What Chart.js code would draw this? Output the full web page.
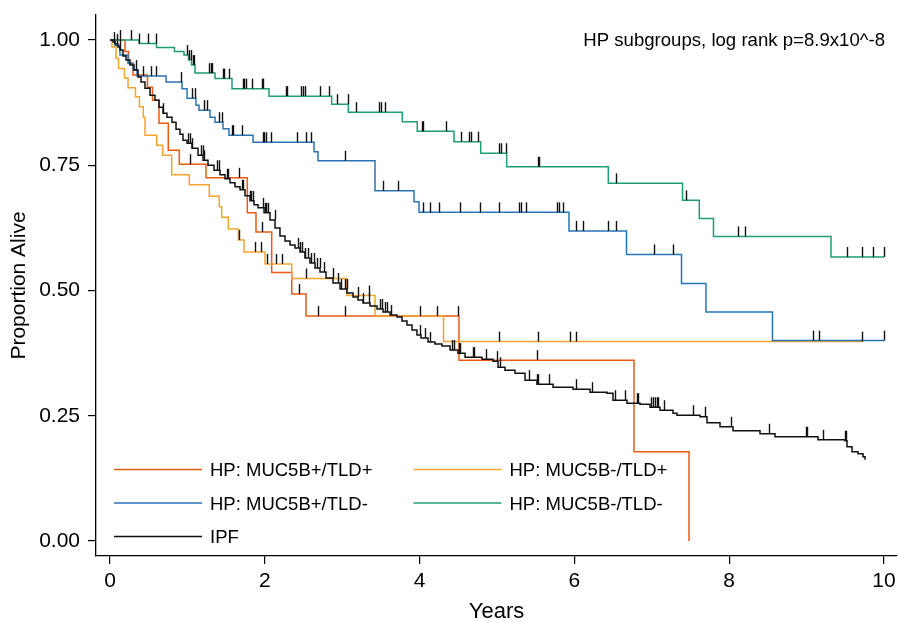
<!DOCTYPE html>
<html>
<head>
<meta charset="utf-8">
<script src="https://cdn.jsdelivr.net/npm/chart.js@4.4.1/dist/chart.umd.min.js"></script>
<style>
  body { margin: 0; background: #fff; }
  #km { display: block; }
</style>
</head>
<body>
<canvas id="km" width="898" height="623"></canvas>
<script>
// Kaplan-Meier curves (time in years, proportion alive)
var redTimes = [0, 0.194, 0.239, 0.297, 0.484, 0.549, 0.633, 0.753, 0.895, 1.240, 1.774, 1.886, 2.089, 2.348, 2.532, 4.509, 6.770, 7.481];
var redSurv  = [1, 0.977, 0.954, 0.930, 0.906, 0.880, 0.834, 0.780, 0.752, 0.725, 0.655, 0.617, 0.536, 0.493, 0.449, 0.361, 0.178, 0];
var redCens  = [1.034, 1.667, 1.964, 2.446, 2.691, 3.036, 4.005, 4.221, 4.500, 5.520];

var orangeTimes = [0, 0.026, 0.078, 0.110, 0.187, 0.233, 0.329, 0.381, 0.430, 0.452, 0.603, 0.681, 0.797, 1.025, 1.283, 1.412, 1.443, 1.528, 1.658, 1.731, 2.003, 2.348, 3.058, 3.424, 4.309, 9.722];
var orangeSurv  = [1, 0.986, 0.963, 0.943, 0.924, 0.905, 0.887, 0.867, 0.846, 0.810, 0.790, 0.770, 0.731, 0.711, 0.688, 0.667, 0.646, 0.623, 0.601, 0.577, 0.553, 0.524, 0.490, 0.449, 0.398, 0.398];
var orangeCens  = [1.670, 1.873, 1.947, 2.025, 2.145, 2.218, 2.528, 3.350, 5.026, 5.526, 5.943, 6.016, 9.722];

var blueTimes = [0, 0.065, 0.129, 0.233, 0.297, 0.349, 0.724, 0.930, 0.995, 1.111, 1.150, 1.292, 1.357, 1.460, 1.537, 1.848, 2.636, 2.687, 3.424, 3.928, 3.992, 5.930, 6.673, 7.384, 7.700, 8.559, 10.0];
var blueSurv  = [1, 0.989, 0.970, 0.953, 0.940, 0.928, 0.916, 0.903, 0.884, 0.870, 0.860, 0.846, 0.836, 0.823, 0.810, 0.796, 0.777, 0.759, 0.699, 0.677, 0.656, 0.619, 0.572, 0.514, 0.457, 0.400, 0.400];
var blueCens  = [0.336, 0.426, 0.530, 0.594, 0.920, 1.059, 1.100, 1.214, 1.253, 1.408, 1.447, 1.576, 1.589, 1.705, 1.977, 1.990, 2.016, 2.080, 2.416, 2.532, 2.597, 3.036, 3.527, 3.721,
                 4.044, 4.134, 4.251, 4.522, 4.780, 5.026, 5.284, 5.310, 5.375, 5.775, 5.801, 5.853, 6.021, 6.111, 6.434, 6.537, 7.028, 7.274, 9.083, 9.160, 10.0];

var greenTimes = [0, 0.375, 0.601, 0.833, 0.956, 1.014, 1.053, 1.098, 1.357, 1.576, 2.054, 2.864, 3.079, 3.776, 3.970, 4.444, 4.789, 5.125, 6.438, 7.397, 7.614, 7.797, 9.315, 10.0];
var greenSurv  = [1, 0.993, 0.985, 0.977, 0.970, 0.960, 0.950, 0.934, 0.923, 0.903, 0.888, 0.872, 0.856, 0.837, 0.818, 0.797, 0.774, 0.747, 0.714, 0.680, 0.644, 0.608, 0.567, 0.567];
var greenCens  = [0.129, 0.271, 0.375, 0.491, 0.594, 0.995, 1.021, 1.047, 1.072, 1.085, 1.279, 1.305, 1.318, 1.460, 1.473, 1.537, 1.718, 1.731, 1.757, 1.835, 1.964, 1.977,
                  2.274, 2.287, 2.468, 2.494, 2.519, 2.713, 2.829, 2.933, 3.075, 3.178, 3.475, 3.501, 3.553, 4.031, 4.044, 4.341, 4.535, 4.638, 4.664, 4.755,
                  5.026, 5.052, 5.116, 5.530, 5.543, 6.537, 7.442, 8.114, 8.204, 9.522, 9.716, 9.858, 10.0];

var ipfTimes = [0, 0.039, 0.065, 0.103, 0.129, 0.168, 0.207, 0.258, 0.310, 0.362, 0.401, 0.452, 0.517, 0.581, 0.633, 0.685, 0.736, 0.801, 0.853, 0.904, 0.943, 0.995,
                1.059, 1.137, 1.202, 1.266, 1.344, 1.421, 1.486, 1.550, 1.615, 1.680, 1.744, 1.809, 1.860, 1.912, 1.990, 2.067, 2.132, 2.196, 2.261, 2.326, 2.390,
                2.455, 2.519, 2.584, 2.649, 2.713, 2.791, 2.881, 2.972, 3.062, 3.140, 3.204, 3.269, 3.359, 3.450, 3.527, 3.618, 3.708, 3.773, 3.837, 3.902, 3.966,
                4.018, 4.109, 4.199, 4.289, 4.393, 4.496, 4.587, 4.806, 4.948, 5.013, 5.103, 5.233, 5.362, 5.517, 5.724, 5.982, 6.202, 6.421, 6.499, 6.680, 6.848,
                6.977, 7.106, 7.274, 7.326, 7.623, 7.713, 7.881, 8.049, 8.398, 8.592, 9.147, 9.496, 9.522, 9.587, 9.664, 9.729, 9.755];
var ipfSurv  = [1, 0.996, 0.992, 0.986, 0.980, 0.968, 0.960, 0.950, 0.940, 0.926, 0.916, 0.904, 0.890, 0.880, 0.866, 0.854, 0.846, 0.836, 0.822, 0.812, 0.800, 0.794,
                0.784, 0.770, 0.760, 0.750, 0.740, 0.731, 0.723, 0.715, 0.707, 0.701, 0.689, 0.679, 0.671, 0.665, 0.655, 0.641, 0.625, 0.609, 0.599, 0.591, 0.585,
                0.577, 0.565, 0.555, 0.545, 0.537, 0.525, 0.515, 0.503, 0.495, 0.487, 0.481, 0.475, 0.469, 0.463, 0.457, 0.451, 0.447, 0.439, 0.431, 0.421, 0.411,
                0.405, 0.397, 0.393, 0.389, 0.381, 0.375, 0.367, 0.363, 0.359, 0.347, 0.341, 0.335, 0.321, 0.313, 0.307, 0.303, 0.297, 0.295, 0.281, 0.275, 0.273,
                0.267, 0.261, 0.255, 0.251, 0.248, 0.236, 0.228, 0.220, 0.214, 0.208, 0.202, 0.200, 0.188, 0.178, 0.174, 0.168, 0.162];
var ipfCens  = [0.05, 0.09, 0.13, 0.685, 1.01, 1.03, 1.06, 1.18, 1.20, 1.21, 1.38, 1.41, 1.51, 1.52, 1.70, 1.72, 1.81, 1.82, 1.85, 1.98, 2.00, 2.01, 2.02, 2.04, 2.13,
                2.43, 2.46, 2.48, 2.52, 2.56, 2.60, 2.63, 2.67, 2.71, 2.76, 2.88, 2.94, 2.98, 3.03, 3.06, 3.20, 3.27, 3.35, 3.49, 3.52, 3.55, 3.58, 3.63, 4.01, 4.07,
                4.13, 4.415, 4.44, 4.51, 4.522, 4.69, 4.703, 4.854, 5.004, 5.039, 5.417, 5.521, 5.534, 5.676, 6.021, 6.227, 6.525, 6.654, 6.813, 6.826, 6.986, 7.016,
                7.041, 7.063, 7.084, 7.158, 7.528, 7.687, 8.023, 8.518, 8.992, 9.009, 9.216, 9.496, 9.509];

var groupLabels = ['HP: MUC5B+/TLD+', 'HP: MUC5B-/TLD+', 'HP: MUC5B+/TLD-', 'HP: MUC5B-/TLD-', 'IPF'];
var groupColors = ['#ED5A12', '#F4A42C', '#2A74B6', '#1E9E72', '#111111'];
var xTicks = [0, 2, 4, 6, 8, 10];
var yTicks = [0, 0.25, 0.5, 0.75, 1];
var noteText = 'HP subgroups, log rank p=8.9x10^-8';

var groups = [
    [redTimes, redSurv, redCens],
    [orangeTimes, orangeSurv, orangeCens],
    [blueTimes, blueSurv, blueCens],
    [greenTimes, greenSurv, greenCens],
    [ipfTimes, ipfSurv, ipfCens]
];

var FONT = "'Liberation Sans', Arial, Helvetica, sans-serif";
Chart.defaults.font.family = FONT;
Chart.defaults.color = '#000';

// value of a step curve at time t
function survAt(times, surv, t) {
    var v = surv[0];
    for (var i = 0; i < times.length; i++) {
        if (times[i] <= t) v = surv[i];
    }
    return v;
}

var datasets = groups.map(function (g, i) {
    return {
        label: groupLabels[i],
        data: g[0].map(function (t, j) { return { x: t, y: g[1][j] }; }),
        borderColor: groupColors[i],
        borderWidth: 1.5,
        stepped: true,
        pointRadius: 0,
        fill: false,
        order: i == 4 ? 0 : 5 - i
    };
});

// censoring marks, note text and the legend inside the plot
var extras = {
    id: 'extras',
    afterDatasetsDraw: function (chart) {
        var ctx = chart.ctx;
        var xs = chart.scales.x, ys = chart.scales.y;
        ctx.save();
        ctx.strokeStyle = '#111';
        ctx.lineWidth = 1.4;
        groups.forEach(function (g) {
            g[2].forEach(function (t) {
                var px = Math.round(xs.getPixelForValue(t)) + 0.5;
                var py = ys.getPixelForValue(survAt(g[0], g[1], t));
                ctx.beginPath();
                ctx.moveTo(px, py);
                ctx.lineTo(px, py - 10);
                ctx.stroke();
            });
        });

        ctx.fillStyle = '#000';
        ctx.font = '18.6px ' + FONT;
        ctx.textAlign = 'right';
        ctx.textBaseline = 'alphabetic';
        ctx.fillText(noteText, 885, 46);

        ctx.font = '18.5px ' + FONT;
        ctx.textAlign = 'left';
        var rows = [469.5, 503, 536.5];
        var cols = [114, 413.5];
        groupLabels.forEach(function (lab, i) {
            var lx = cols[i % 2], ly = rows[Math.floor(i / 2)];
            ctx.strokeStyle = groupColors[i];
            ctx.lineWidth = 1.5;
            ctx.beginPath();
            ctx.moveTo(lx, ly);
            ctx.lineTo(lx + 88, ly);
            ctx.stroke();
            ctx.fillText(lab, lx + 96, ly + 6.5);
        });
        ctx.restore();
    }
};

var ctx = document.getElementById('km').getContext('2d');
var chart = new Chart(ctx, {
    type: 'line',
    data: { datasets: datasets },
    options: {
        responsive: false,
        animation: false,
        layout: { padding: { top: 15, right: 1, left: 0, bottom: 0 } },
        plugins: {
            legend: { display: false },
            tooltip: { enabled: false }
        },
        scales: {
            x: {
                type: 'linear',
                min: -0.181,
                max: 10.168,
                afterBuildTicks: function (s) { s.ticks = xTicks.map(function (v) { return { value: v }; }); },
                afterFit: function (s) { s.height = 67; s.paddingLeft = 0; s.paddingRight = 0; },
                grid: { display: true, drawOnChartArea: false, drawTicks: true, tickLength: 8, color: '#000', lineWidth: 1.2 },
                border: { display: true, color: '#000', width: 1.3 },
                ticks: { font: { size: 21 }, color: '#000', padding: 5, autoSkip: false, maxRotation: 0 },
                title: { display: true, text: 'Years', font: { size: 22, lineHeight: 1 }, color: '#000', padding: 0 }
            },
            y: {
                min: -0.03,
                max: 1.05,
                afterBuildTicks: function (s) { s.ticks = yTicks.map(function (v) { return { value: v }; }); },
                afterFit: function (s) { s.width = 96; s.paddingTop = 0; s.paddingBottom = 0; },
                grid: { display: true, drawOnChartArea: false, drawTicks: true, tickLength: 8, color: '#000', lineWidth: 1.2 },
                border: { display: true, color: '#000', width: 1.3 },
                ticks: {
                    font: { size: 21 }, color: '#000', padding: 8, autoSkip: false,
                    callback: function (v) { return v.toFixed(2); }
                },
                title: { display: true, text: 'Proportion Alive', font: { size: 21, lineHeight: 1 }, color: '#000', padding: { top: 9, bottom: 0 } }
            }
        }
    },
    plugins: [extras]
});
</script>
</body>
</html>
